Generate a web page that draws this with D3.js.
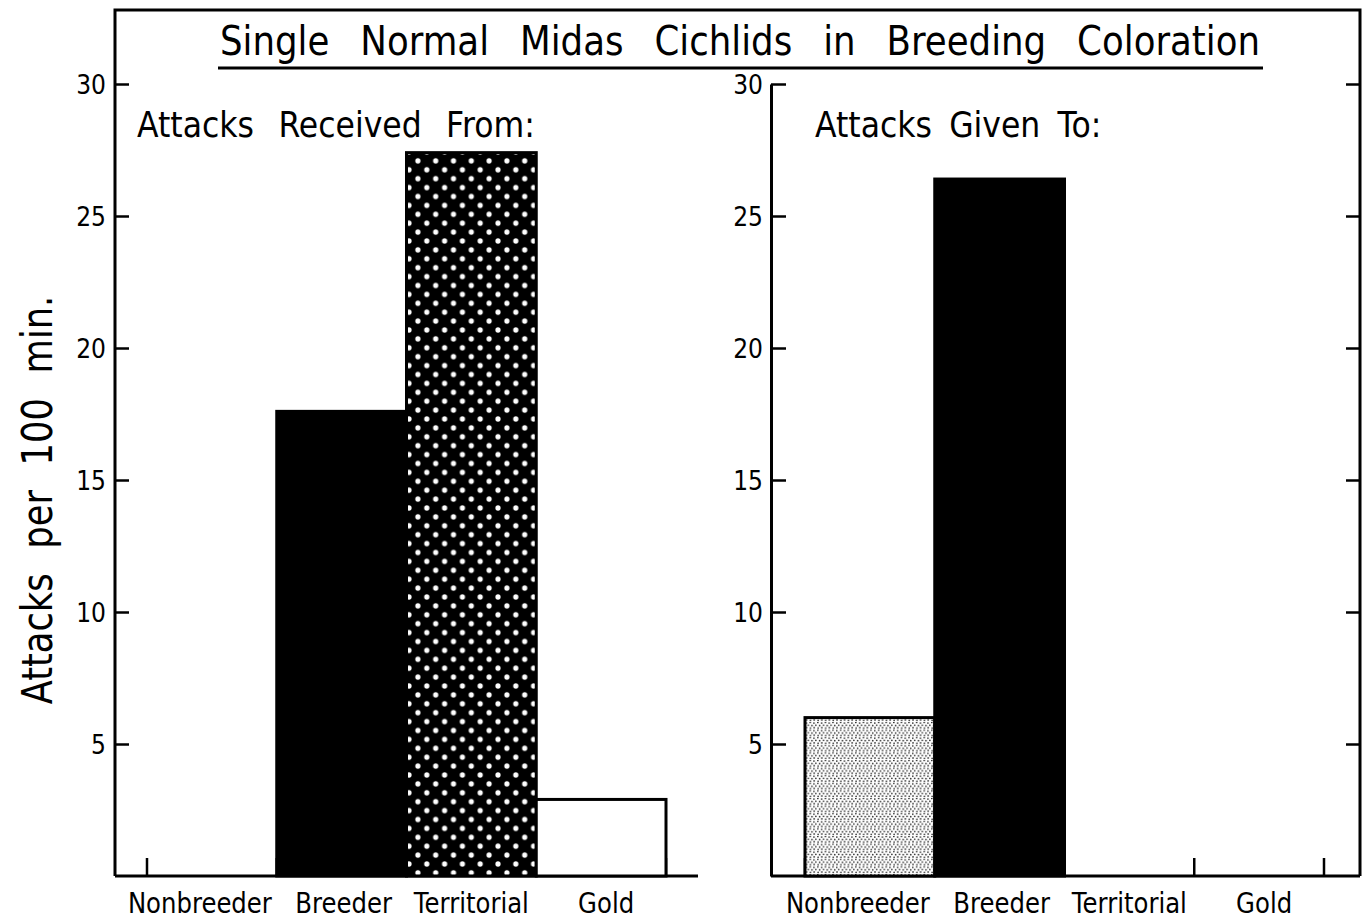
<!DOCTYPE html>
<html>
<head>
<meta charset="utf-8">
<script src="https://cdn.jsdelivr.net/npm/d3@7"></script>
<style>
  body { margin: 0; background: #fff; }
  text { font-family: "DejaVu Sans", sans-serif; fill: #000; }
</style>
</head>
<body>
<div id="chart"></div>
<script>
// data
const categories = ["Nonbreeder", "Breeder", "Territorial", "Gold"]
const receivedValues = [0, 17.6, 27.4, 2.9]   // attacks received from
const givenValues = [6.0, 26.4, 0, 0]         // attacks given to
const receivedFills = ["none", "solid", "dots", "open"]
const givenFills = ["stipple", "solid", "none", "none"]
const yTicks = [5, 10, 15, 20, 25, 30]
const titleText = "Single Normal Midas Cichlids in Breeding Coloration"
const yLabelText = "Attacks per 100 min."
const panelTitles = ["Attacks Received From:", "Attacks Given To:"]

const svgWidth = 1365
const svgHeight = 921

const frameLeft = 115, frameRight = 1360, frameTop = 10, baseY = 876
const condense = 0.84 // the lettering is narrower than DejaVu
const labelNudge = [-12, 2, 0, 5] // hand lettering is not quite centred

const svg = d3.select("#chart").append("svg")
  .attr("width", svgWidth)
  .attr("height", svgHeight)

const defs = svg.append("defs")

// white dots on black, offset rows
const dotPat = defs.append("pattern")
  .attr("id", "dots")
  .attr("patternUnits", "userSpaceOnUse")
  .attr("x", 409).attr("y", 152)
  .attr("width", 17.8).attr("height", 17.8)
dotPat.append("rect").attr("width", 17.8).attr("height", 17.8).attr("fill", "#000")
const dotCentres = [[0, 0], [17.8, 0], [0, 17.8], [17.8, 17.8], [8.9, 8.9]]
dotCentres.forEach(p => {
  dotPat.append("circle").attr("cx", p[0]).attr("cy", p[1]).attr("r", 2.6).attr("fill", "#fff")
})

// fine stipple
const stipPat = defs.append("pattern")
  .attr("id", "stipple")
  .attr("patternUnits", "userSpaceOnUse")
  .attr("width", 7.6).attr("height", 7.6)
stipPat.append("rect").attr("width", 7.6).attr("height", 7.6).attr("fill", "#fff")
const stipDots = [[0.8, 1.0], [4.6, 0.5], [2.7, 3.2], [6.4, 3.5], [1.0, 5.6], [4.9, 6.0]]
stipDots.forEach(p => {
  stipPat.append("circle").attr("cx", p[0]).attr("cy", p[1]).attr("r", 0.8).attr("fill", "#222")
})

function fillFor(kind) {
  if (kind === "solid") return "#000"
  if (kind === "dots") return "url(#dots)"
  if (kind === "stipple") return "url(#stipple)"
  return "#fff"
}

// squeeze a text element horizontally
function squeeze(sel, factor) {
  sel.each(function () {
    const w = this.getComputedTextLength()
    d3.select(this)
      .attr("textLength", w * factor)
      .attr("lengthAdjust", "spacingAndGlyphs")
  })
}

const y = d3.scaleLinear().domain([0, 30]).range([baseY, 84])

const xLeft = d3.scaleBand().domain(categories).range([147, 666])
const xRight = d3.scaleBand().domain(categories).range([805, 1324])

// FRAME
svg.append("path")
  .attr("d", `M${frameLeft},${baseY}V${frameTop}H${frameRight}V${baseY}`)
  .attr("fill", "none").attr("stroke", "#000").attr("stroke-width", 3)

// left axis ticks + labels
const leftAxis = svg.append("g")
  .attr("transform", `translate(${frameLeft},0)`)
  .call(d3.axisLeft(y).tickValues(yTicks).tickSizeInner(-14).tickSizeOuter(0).tickPadding(9))
leftAxis.select(".domain").remove()

// right frame ticks
const frameAxis = svg.append("g")
  .attr("transform", `translate(${frameRight},0)`)
  .call(d3.axisLeft(y).tickValues(yTicks).tickSizeInner(14).tickSizeOuter(0).tickFormat(""))
frameAxis.select(".domain").remove()

// second panel axis
const midAxis = svg.append("g")
  .attr("transform", "translate(771,0)")
  .call(d3.axisLeft(y).tickValues(yTicks).tickSizeInner(-15).tickSizeOuter(0).tickPadding(8))

svg.selectAll(".tick line").attr("stroke", "#000").attr("stroke-width", 2.5)
svg.selectAll(".domain").attr("stroke", "#000").attr("stroke-width", 3)
svg.selectAll(".tick text")
  .attr("font-size", 26)
  .attr("font-family", "DejaVu Sans")
  .attr("fill", "#000")
  .attr("dy", "0.36em")
  .call(squeeze, 0.9)

// baselines
svg.append("line").attr("x1", frameLeft).attr("x2", 698).attr("y1", baseY).attr("y2", baseY)
  .attr("stroke", "#000").attr("stroke-width", 3)
svg.append("line").attr("x1", 771).attr("x2", frameRight).attr("y1", baseY).attr("y2", baseY)
  .attr("stroke", "#000").attr("stroke-width", 3)

function drawPanel(x, values, fills, cls) {
  const rows = categories.map((c, i) => ({ cat: c, value: values[i], fill: fills[i] }))

  // small ticks at class boundaries
  const edges = categories.map(c => x(c)).concat([x.range()[1]])
  svg.append("g").selectAll("line").data(edges).enter()
    .append("line")
    .attr("x1", d => d).attr("x2", d => d)
    .attr("y1", baseY).attr("y2", baseY - 18)
    .attr("stroke", "#000").attr("stroke-width", 2.5)

  svg.append("g").selectAll("rect")
    .data(rows.filter(d => d.value > 0))
    .enter().append("rect")
    .attr("class", cls)
    .attr("x", d => x(d.cat))
    .attr("y", d => y(d.value))
    .attr("width", x.bandwidth())
    .attr("height", d => baseY - y(d.value))
    .attr("fill", d => fillFor(d.fill))
    .attr("stroke", "#000")
    .attr("stroke-width", 3)

  svg.append("g").selectAll("text")
    .data(categories).enter()
    .append("text")
    .attr("x", (d, i) => x(d) + x.bandwidth() / 2 + labelNudge[i])
    .attr("y", 913)
    .attr("text-anchor", "middle")
    .attr("font-size", 28)
    .text(d => d)
    .call(squeeze, 0.87)
}

drawPanel(xLeft, receivedValues, receivedFills, "received")
drawPanel(xRight, givenValues, givenFills, "given")

// TITLE
svg.append("text")
  .attr("x", 740).attr("y", 55)
  .attr("text-anchor", "middle")
  .attr("font-size", 40)
  .attr("word-spacing", 22)
  .text(titleText)
  .call(squeeze, 0.89)
svg.append("line").attr("x1", 218).attr("x2", 1263).attr("y1", 68).attr("y2", 68)
  .attr("stroke", "#000").attr("stroke-width", 3)

// panel headings
svg.append("text").attr("x", 137).attr("y", 137)
  .attr("font-size", 35).attr("word-spacing", 16)
  .text(panelTitles[0]).call(squeeze, 0.9)
svg.append("text").attr("x", 815).attr("y", 137)
  .attr("font-size", 35).attr("word-spacing", 8)
  .text(panelTitles[1]).call(squeeze, 0.9)

// Y LABEL
svg.append("text")
  .attr("transform", "translate(52,500) rotate(-90)")
  .attr("text-anchor", "middle")
  .attr("font-size", 42)
  .attr("word-spacing", 16)
  .text(yLabelText)
  .call(squeeze, condense)
</script>
</body>
</html>
